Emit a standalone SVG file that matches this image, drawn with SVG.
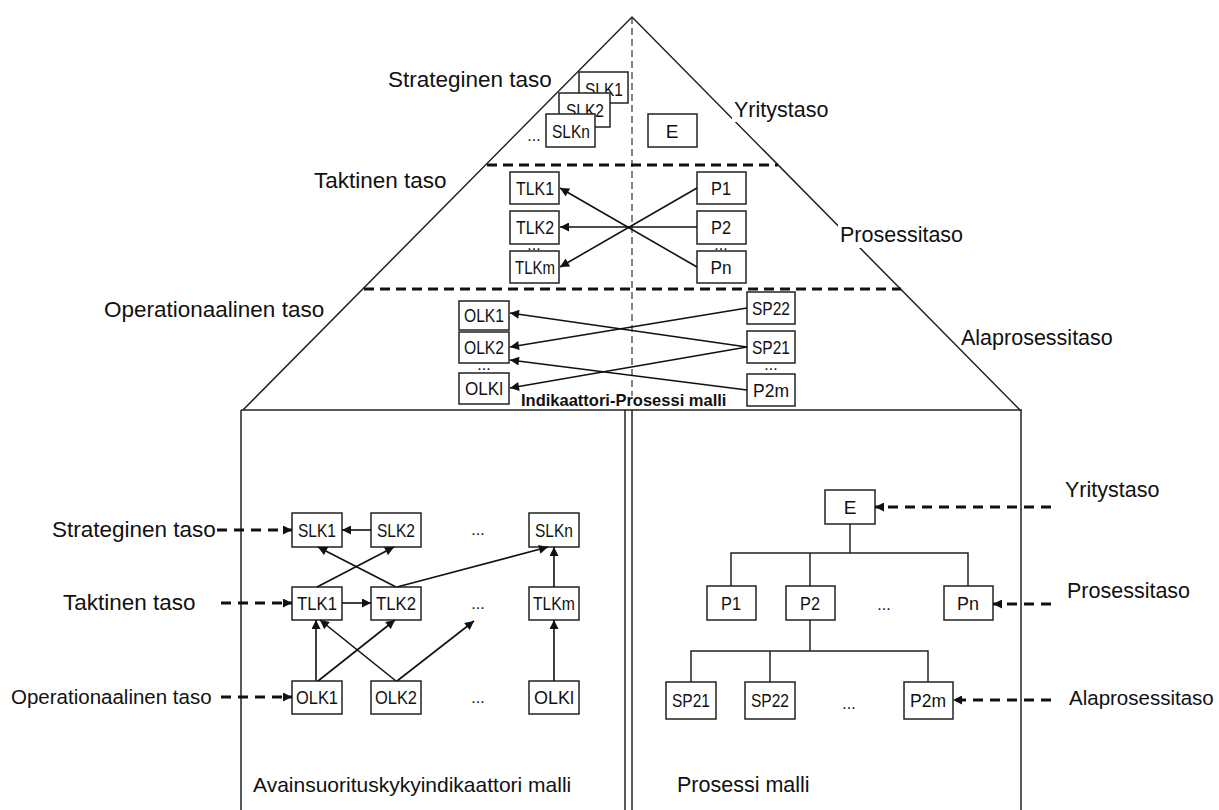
<svg xmlns="http://www.w3.org/2000/svg" width="1219" height="810" viewBox="0 0 1219 810">
<style>
.lbl{font-family:"Liberation Sans",Arial,sans-serif;font-size:21.5px;fill:#111}
.big{font-size:22.5px}
.bx rect{fill:#fff;stroke:#222;stroke-width:1.5}
.bx text{font-family:"Liberation Sans",Arial,sans-serif;font-size:19px;fill:#111;text-anchor:middle}
.dots{font-family:"Liberation Sans",Arial,sans-serif;font-size:16px;fill:#111;text-anchor:middle}
.edge{fill:none;stroke:#222;stroke-width:1.5}
.lvl{fill:none;stroke:#111;stroke-width:3;stroke-dasharray:10 6}
.vd{fill:none;stroke:#333;stroke-width:1.2;stroke-dasharray:7 4}
.ar{fill:none;stroke:#111;stroke-width:1.6;marker-end:url(#ah)}
.da{fill:none;stroke:#111;stroke-width:3;stroke-dasharray:10 7;marker-end:url(#ah)}
.tr{fill:none;stroke:#222;stroke-width:1.5}
</style>
<defs>
<marker id="ah" viewBox="0 0 10 10" refX="10" refY="5" markerWidth="10" markerHeight="9" markerUnits="userSpaceOnUse" orient="auto"><path d="M0,0 L10,5 L0,10 z" fill="#111"/></marker>
</defs>
<rect width="1219" height="810" fill="#fff"/>

<g id="frame">
<polyline class="edge" points="243,410 632,17 1020,410"/>
<line class="edge" x1="241" y1="410" x2="1022" y2="410"/>
<line class="edge" x1="241" y1="410" x2="241" y2="810"/>
<line class="edge" x1="625" y1="410" x2="625" y2="810"/>
<line class="edge" x1="632" y1="410" x2="632" y2="810"/>
<line class="edge" x1="1021" y1="410" x2="1021" y2="810"/>
<line class="vd" x1="632" y1="17" x2="632" y2="396"/>
<line class="lvl" x1="487" y1="165" x2="778" y2="165"/>
<line class="lvl" x1="364" y1="289" x2="901" y2="289"/>
</g>

<g id="labels-top">
<text class="lbl big" x="388" y="87">Strateginen taso</text>
<rect x="732" y="98" width="80" height="24" fill="#fff"/>
<text class="lbl" x="734" y="117">Yritystaso</text>
<text class="lbl big" x="314" y="188">Taktinen taso</text>
<rect x="838" y="222" width="112" height="26" fill="#fff"/>
<text class="lbl" x="840" y="242">Prosessitaso</text>
<text class="lbl big" x="104" y="317">Operationaalinen taso</text>
<text class="lbl" x="961" y="345">Alaprosessitaso</text>
<text x="521" y="406" style="font-family:'Liberation Sans',Arial,sans-serif;font-size:16.5px;font-weight:bold;fill:#111">Indikaattori-Prosessi malli</text>
</g>

<g id="top-nodes">
<g id="t-SLK1" class="bx"><rect x="579" y="72" width="49" height="31"/><text x="604" y="96" textLength="38" lengthAdjust="spacingAndGlyphs">SLK1</text></g>
<g id="t-SLK2" class="bx"><rect x="559" y="93" width="51" height="34"/><text x="585" y="117" textLength="38" lengthAdjust="spacingAndGlyphs">SLK2</text></g>
<g id="t-SLKn" class="bx"><rect x="546" y="114" width="49" height="33"/><text x="571" y="138" textLength="38" lengthAdjust="spacingAndGlyphs">SLKn</text></g>
<text class="dots" x="534" y="141">...</text>
<g id="t-E" class="bx"><rect x="648" y="114" width="49" height="33"/><text x="672" y="138">E</text></g>
<g id="t-TLK1" class="bx"><rect x="510" y="172" width="49" height="32"/><text x="535" y="195" textLength="38" lengthAdjust="spacingAndGlyphs">TLK1</text></g>
<g id="t-TLK2" class="bx"><rect x="510" y="211" width="49" height="33"/><text x="535" y="234" textLength="38" lengthAdjust="spacingAndGlyphs">TLK2</text></g>
<text class="dots" x="534" y="250">...</text>
<g id="t-TLKm" class="bx"><rect x="510" y="251" width="49" height="32"/><text x="535" y="274" textLength="40" lengthAdjust="spacingAndGlyphs">TLKm</text></g>
<g id="t-P1" class="bx"><rect x="697" y="172" width="49" height="32"/><text x="721" y="195" textLength="20" lengthAdjust="spacingAndGlyphs">P1</text></g>
<g id="t-P2" class="bx"><rect x="697" y="211" width="49" height="33"/><text x="721" y="234" textLength="20" lengthAdjust="spacingAndGlyphs">P2</text></g>
<text class="dots" x="721" y="250">...</text>
<g id="t-Pn" class="bx"><rect x="697" y="251" width="49" height="32"/><text x="721" y="274" textLength="21" lengthAdjust="spacingAndGlyphs">Pn</text></g>
<g id="t-OLK1" class="bx"><rect x="459" y="301" width="50" height="29"/><text x="484" y="322" textLength="40" lengthAdjust="spacingAndGlyphs">OLK1</text></g>
<g id="t-OLK2" class="bx"><rect x="459" y="332" width="50" height="31"/><text x="484" y="354" textLength="40" lengthAdjust="spacingAndGlyphs">OLK2</text></g>
<text class="dots" x="484" y="370">...</text>
<g id="t-OLKl" class="bx"><rect x="459" y="373" width="50" height="31"/><text x="484" y="395" textLength="38" lengthAdjust="spacingAndGlyphs">OLKl</text></g>
<g id="t-SP22" class="bx"><rect x="747" y="292" width="48" height="32"/><text x="771" y="315" textLength="38" lengthAdjust="spacingAndGlyphs">SP22</text></g>
<g id="t-SP21" class="bx"><rect x="747" y="331" width="48" height="32"/><text x="771" y="354" textLength="38" lengthAdjust="spacingAndGlyphs">SP21</text></g>
<text class="dots" x="771" y="370">...</text>
<g id="t-P2m" class="bx"><rect x="747" y="374" width="48" height="32"/><text x="771" y="397" textLength="36" lengthAdjust="spacingAndGlyphs">P2m</text></g>
</g>

<g id="lower-left">
<text class="lbl big" x="52" y="537">Strateginen taso</text>
<text class="lbl big" x="63" y="610">Taktinen taso</text>
<text class="lbl" x="11" y="704" style="font-size:20.5px">Operationaalinen taso</text>
<text class="lbl" x="253" y="792" style="font-size:21px">Avainsuorituskykyindikaattori malli</text>
<g id="SLK1" class="bx"><rect x="292" y="513" width="50" height="34"/><text x="317" y="537" textLength="38" lengthAdjust="spacingAndGlyphs">SLK1</text></g>
<g id="SLK2" class="bx"><rect x="371" y="513" width="50" height="34"/><text x="396" y="537" textLength="38" lengthAdjust="spacingAndGlyphs">SLK2</text></g>
<text class="dots" x="478" y="535">...</text>
<g id="SLKn" class="bx"><rect x="529" y="513" width="50" height="34"/><text x="554" y="537" textLength="38" lengthAdjust="spacingAndGlyphs">SLKn</text></g>
<g id="TLK1" class="bx"><rect x="292" y="587" width="50" height="33"/><text x="317" y="610" textLength="40" lengthAdjust="spacingAndGlyphs">TLK1</text></g>
<g id="TLK2" class="bx"><rect x="371" y="587" width="50" height="33"/><text x="396" y="610" textLength="40" lengthAdjust="spacingAndGlyphs">TLK2</text></g>
<text class="dots" x="478" y="609">...</text>
<g id="TLKm" class="bx"><rect x="529" y="587" width="50" height="33"/><text x="554" y="610" textLength="42" lengthAdjust="spacingAndGlyphs">TLKm</text></g>
<g id="OLK1" class="bx"><rect x="292" y="681" width="50" height="33"/><text x="317" y="704" textLength="42" lengthAdjust="spacingAndGlyphs">OLK1</text></g>
<g id="OLK2" class="bx"><rect x="371" y="681" width="50" height="33"/><text x="396" y="704" textLength="42" lengthAdjust="spacingAndGlyphs">OLK2</text></g>
<text class="dots" x="478" y="703">...</text>
<g id="OLKl" class="bx"><rect x="529" y="681" width="50" height="33"/><text x="554" y="704" textLength="40" lengthAdjust="spacingAndGlyphs">OLKl</text></g>
</g>

<g id="lower-right">
<text class="lbl" x="1065" y="497">Yritystaso</text>
<text class="lbl" x="1067" y="598">Prosessitaso</text>
<text class="lbl" x="1069" y="705" style="font-size:20.5px">Alaprosessitaso</text>
<text class="lbl" x="677" y="792">Prosessi malli</text>
<g id="E" class="bx"><rect x="825" y="490" width="50" height="34"/><text x="850" y="514">E</text></g>
<g id="P1" class="bx"><rect x="707" y="586" width="49" height="34"/><text x="731" y="610" textLength="20" lengthAdjust="spacingAndGlyphs">P1</text></g>
<g id="P2" class="bx"><rect x="786" y="586" width="49" height="34"/><text x="810" y="610" textLength="20" lengthAdjust="spacingAndGlyphs">P2</text></g>
<text class="dots" x="884" y="610">...</text>
<g id="Pn" class="bx"><rect x="944" y="586" width="49" height="34"/><text x="968" y="610" textLength="22" lengthAdjust="spacingAndGlyphs">Pn</text></g>
<g id="SP21" class="bx"><rect x="666" y="682" width="50" height="37"/><text x="691" y="707" textLength="38" lengthAdjust="spacingAndGlyphs">SP21</text></g>
<g id="SP22" class="bx"><rect x="745" y="682" width="50" height="37"/><text x="770" y="707" textLength="38" lengthAdjust="spacingAndGlyphs">SP22</text></g>
<text class="dots" x="849" y="709">...</text>
<g id="P2m" class="bx"><rect x="904" y="682" width="49" height="37"/><text x="928" y="707" textLength="36" lengthAdjust="spacingAndGlyphs">P2m</text></g>
</g>

<g id="connectors">
<line class="ar" x1="697" y1="188" x2="560" y2="267"/>
<line class="ar" x1="697" y1="227" x2="560" y2="227"/>
<line class="ar" x1="697" y1="267" x2="560" y2="188"/>
<line class="ar" x1="747" y1="308" x2="510" y2="347"/>
<line class="ar" x1="747" y1="347" x2="510" y2="313"/>
<line class="ar" x1="747" y1="390" x2="510" y2="360"/>
<line class="ar" x1="747" y1="347" x2="510" y2="388"/>

<line class="da" x1="217" y1="530" x2="292" y2="530"/>
<line class="da" x1="221" y1="603" x2="292" y2="603"/>
<line class="da" x1="221" y1="697" x2="292" y2="697"/>
<line class="ar" x1="371" y1="530" x2="342" y2="530"/>
<line class="ar" x1="342" y1="603" x2="371" y2="603"/>
<line class="ar" x1="396" y1="587" x2="318" y2="547"/>
<line class="ar" x1="317" y1="587" x2="394" y2="547"/>
<line class="ar" x1="397" y1="587" x2="548" y2="547"/>
<line class="ar" x1="554" y1="587" x2="554" y2="547"/>
<line class="ar" x1="316" y1="681" x2="316" y2="620"/>
<line class="ar" x1="318" y1="681" x2="395" y2="620"/>
<line class="ar" x1="396" y1="681" x2="320" y2="620"/>
<line class="ar" x1="397" y1="681" x2="474" y2="621"/>
<line class="ar" x1="554" y1="681" x2="554" y2="620"/>

<line class="da" x1="1051" y1="507" x2="875" y2="507"/>
<line class="da" x1="1051" y1="604" x2="993" y2="604"/>
<line class="da" x1="1051" y1="700" x2="953" y2="700"/>
<polyline class="tr" points="850,524 850,553"/>
<polyline class="tr" points="731,586 731,553 968,553 968,586"/>
<line class="tr" x1="810" y1="553" x2="810" y2="586"/>
<polyline class="tr" points="810,620 810,651"/>
<polyline class="tr" points="691,682 691,651 928,651 928,682"/>
<line class="tr" x1="770" y1="651" x2="770" y2="682"/>
</g>
</svg>
